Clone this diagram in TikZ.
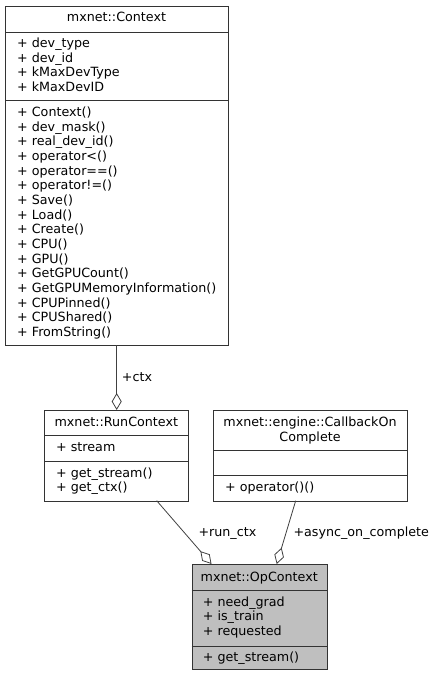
\documentclass[tikz,border=0pt]{standalone}
\usepackage{fontspec}
\newfontfamily\dv{DejaVu Sans}
\usetikzlibrary{arrows.meta}
\begin{document}
\begin{tikzpicture}[x=1pt,y=-1pt,
  box/.style={draw=black!80, line width=0.9pt, anchor=north west, inner sep=0, fill=white},
  sep/.style={draw=black!80, line width=0.9pt},
  txt/.style={font=\dv\fontsize{12.7}{14.7}\selectfont, anchor=base west, inner sep=0},
  ttl/.style={font=\dv\fontsize{12.7}{14.7}\selectfont, anchor=base, inner sep=0},
  conn/.style={draw=black!75, line width=0.8pt, {Diamond[open, length=17pt, width=10pt]}-},
  lbl/.style={font=\dv\fontsize{12.7}{14.7}\selectfont, anchor=base west, inner sep=0}]
\useasboundingbox (0,0) rectangle (437,676);
% mxnet::Context
\node[box, minimum width=223pt, minimum height=339pt] (ctx) at (5,6) {};
\draw[sep] (5,32) -- (228,32);
\draw[sep] (5,100) -- (228,100);
\node[ttl] (ctxT) at (116.5,21.5) {mxnet::Context};
\foreach \t [count=\i] in {{+ dev\_type},{+ dev\_id},{+ kMaxDevType},{+ kMaxDevID}}
  \node[txt] (ctxA\i) at (17,{47.5+(\i-1)*14.67}) {\t};
\foreach \t [count=\i] in {{+ Context()},{+ dev\_mask()},{+ real\_dev\_id()},{+ operator<()},{+ operator==()},{+ operator!=()},{+ Save()},{+ Load()},{+ Create()},{+ CPU()},{+ GPU()},{+ GetGPUCount()},{+ GetGPUMemoryInformation()},{+ CPUPinned()},{+ CPUShared()},{+ FromString()}}
  \node[txt] (ctxM\i) at (17,{116.5+(\i-1)*14.67}) {\t};
% mxnet::RunContext
\node[box, minimum width=144pt, minimum height=90.7pt] (run) at (44.3,410) {};
\draw[sep] (44.3,435.7) -- (188.3,435.7);
\draw[sep] (44.3,461) -- (188.3,461);
\node[ttl] (runT) at (116.3,426.2) {mxnet::RunContext};
\node[txt] (runA1) at (56,451.2) {+ stream};
\node[txt] (runM1) at (56,477.2) {+ get\_stream()};
\node[txt] (runM2) at (56,491.8) {+ get\_ctx()};
% mxnet::engine::CallbackOnComplete
\node[box, minimum width=193.4pt, minimum height=90.7pt] (cb) at (213.3,410) {};
\draw[sep] (213.3,450) -- (406.7,450);
\draw[sep] (213.3,475.7) -- (406.7,475.7);
\node[ttl] (cbT1) at (310,426.2) {mxnet::engine::CallbackOn};
\node[ttl] (cbT2) at (310,441.2) {Complete};
\node[txt] (cbM1) at (225,491.2) {+ operator()()};
% mxnet::OpContext
\node[box, fill={rgb,255:red,191;green,191;blue,191}, minimum width=135pt, minimum height=105.3pt] (op) at (191.7,564) {};
\draw[sep] (191.7,590) -- (326.7,590);
\draw[sep] (191.7,646.7) -- (326.7,646.7);
\node[ttl] (opT) at (259.2,581.8) {mxnet::OpContext};
\node[txt] (opA1) at (202.7,606.2) {+ need\_grad};
\node[txt] (opA2) at (202.7,620.8) {+ is\_train};
\node[txt] (opA3) at (202.7,635.5) {+ requested};
\node[txt] (opM1) at (202.7,661.8) {+ get\_stream()};
% connectors
\coordinate (ctxB) at (116.7,345);
\coordinate (runTop) at (116.7,410);
\coordinate (runB) at (156.7,500.7);
\coordinate (cbB) at (295.7,500.7);
\coordinate (opL) at (211.5,564);
\coordinate (opR) at (276.7,564);
\draw[conn] (runTop) -- (ctxB);
\draw[conn] (opL) -- (runB);
\draw[conn] (opR) -- (cbB);
\node[lbl] (l1) at (121.7,381) {+ctx};
\node[lbl] (l2) at (198.3,536) {+run\_ctx};
\node[lbl] (l3) at (293.3,536) {+async\_on\_complete};
\end{tikzpicture}
\end{document}
